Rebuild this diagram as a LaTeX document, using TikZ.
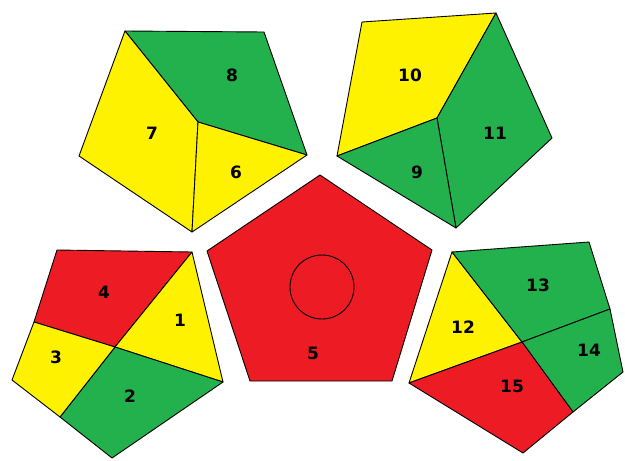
\documentclass[tikz,border=0pt]{standalone}
\usepackage{fontspec}
\setmainfont{DejaVu Sans}
\definecolor{PatchRed}{HTML}{ED1C24}
\definecolor{PatchYellow}{HTML}{FFF200}
\definecolor{PatchGreen}{HTML}{22B14C}

\begin{document}
\begin{tikzpicture}[x=1pt, y=-1pt, line width=0.9pt,
		patch/.style={draw=black, line join=round},
		num/.style={font=\bfseries\fontsize{17}{17}\selectfont, inner sep=0pt}]
		\useasboundingbox (0,0) rectangle (625,461);
		
		% Top left pentagon
		\coordinate (tlA) at (125,31);
		\coordinate (tlB) at (264,32);
		\coordinate (tlC) at (307,155);
		\coordinate (tlD) at (192,232);
		\coordinate (tlE) at (79,156);
		\coordinate (tlM) at (198,122);
		\filldraw[patch, fill=PatchGreen] (tlA) -- (tlB) -- (tlC) -- (tlM) -- cycle;
		\filldraw[patch, fill=PatchYellow] (tlA) -- (tlM) -- (tlD) -- (tlE) -- cycle;
		\filldraw[patch, fill=PatchYellow] (tlM) -- (tlC) -- (tlD) -- cycle;
		
		% Top right pentagon
		\coordinate (trA) at (362,22);
		\coordinate (trB) at (496,13);
		\coordinate (trC) at (552,138);
		\coordinate (trD) at (456,228);
		\coordinate (trE) at (337,156);
		\coordinate (trM) at (437,118);
		\filldraw[patch, fill=PatchYellow] (trA) -- (trB) -- (trM) -- (trE) -- cycle;
		\filldraw[patch, fill=PatchGreen] (trB) -- (trC) -- (trD) -- (trM) -- cycle;
		\filldraw[patch, fill=PatchGreen] (trM) -- (trD) -- (trE) -- cycle;
		
		% Bottom left pentagon
		\coordinate (blA) at (57,250);
		\coordinate (blB) at (192,252);
		\coordinate (blC) at (223,382);
		\coordinate (blD) at (112,458);
		\coordinate (blE) at (12,380);
		\coordinate (blM) at (115,347);
		\coordinate (blP) at (34,322);
		\coordinate (blQ) at (60,417);
		\filldraw[patch, fill=PatchRed] (blA) -- (blB) -- (blM) -- (blP) -- cycle;
		\filldraw[patch, fill=PatchYellow] (blB) -- (blC) -- (blM) -- cycle;
		\filldraw[patch, fill=PatchGreen] (blM) -- (blC) -- (blD) -- (blQ) -- cycle;
		\filldraw[patch, fill=PatchYellow] (blP) -- (blM) -- (blQ) -- (blE) -- cycle;
		
		% Bottom right pentagon
		\coordinate (brA) at (452,252);
		\coordinate (brB) at (589,242);
		\coordinate (brC) at (623,372);
		\coordinate (brD) at (523,453);
		\coordinate (brE) at (409,383);
		\coordinate (brM) at (522,342);
		\coordinate (brP) at (610,309);
		\coordinate (brQ) at (573,412);
		\filldraw[patch, fill=PatchYellow] (brA) -- (brM) -- (brE) -- cycle;
		\filldraw[patch, fill=PatchGreen] (brA) -- (brB) -- (brP) -- (brM) -- cycle;
		\filldraw[patch, fill=PatchGreen] (brM) -- (brP) -- (brC) -- (brQ) -- cycle;
		\filldraw[patch, fill=PatchRed] (brE) -- (brM) -- (brQ) -- (brD) -- cycle;
		
		% Centre pentagon
		\filldraw[patch, fill=PatchRed] (320,175) -- (432,250) -- (392,381) -- (250,381) -- (207,251) -- cycle;
		\draw (322,287) circle (32);
		
		% Labels
		\node[num] (n1) at (180,320) {1};
		\node[num] (n2) at (130,396) {2};
		\node[num] (n3) at (56,357) {3};
		\node[num] (n4) at (104,292) {4};
		\node[num] (n5) at (313,353) {5};
		\node[num] (n6) at (236,172) {6};
		\node[num] (n7) at (152,133) {7};
		\node[num] (n8) at (232,75) {8};
		\node[num] (n9) at (417,172) {9};
		\node[num] (n10) at (410,75) {10};
		\node[num] (n11) at (495,133) {11};
		\node[num] (n12) at (463,327) {12};
		\node[num] (n13) at (538,285) {13};
		\node[num] (n14) at (589,350) {14};
		\node[num] (n15) at (512,386) {15};
	\end{tikzpicture}
\end{document}
